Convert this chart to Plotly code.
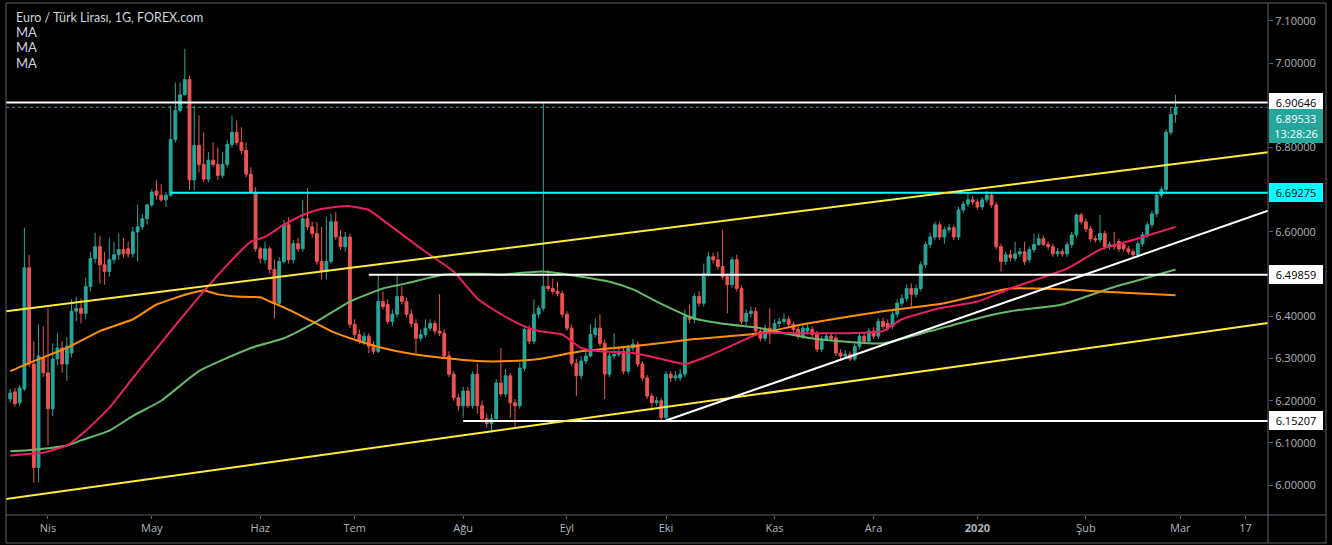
import pandas as pd
import plotly.graph_objects as go

# ---------------- data (EUR/TRY daily) ----------------
start_date = "2019-03-20"

opens = [
    6.204, 6.221, 6.195, 6.228, 6.515, 6.287, 6.042, 6.301, 6.266, 6.181,
    6.299, 6.325, 6.287, 6.313, 6.412, 6.419, 6.407, 6.471, 6.537, 6.565,
    6.522, 6.506, 6.534, 6.546, 6.558, 6.560, 6.548, 6.600, 6.612, 6.631,
    6.664, 6.697, 6.687, 6.676, 6.687, 6.819, 6.888, 6.925, 6.961, 6.723,
    6.805, 6.760, 6.725, 6.770, 6.760, 6.734, 6.760, 6.807, 6.836, 6.812,
    6.793, 6.737, 6.694, 6.560, 6.534, 6.560, 6.511, 6.431, 6.530, 6.617,
    6.534, 6.572, 6.560, 6.631, 6.612, 6.596, 6.530, 6.506, 6.530, 6.624,
    6.588, 6.565, 6.588, 6.381, 6.357, 6.341, 6.353, 6.329, 6.317, 6.435,
    6.428, 6.388, 6.405, 6.447, 6.435, 6.405, 6.383, 6.348, 6.357, 6.372,
    6.383, 6.365, 6.360, 6.306, 6.263, 6.207, 6.188, 6.223, 6.188, 6.263,
    6.188, 6.157, 6.146, 6.157, 6.242, 6.216, 6.259, 6.195, 6.188, 6.277,
    6.369, 6.341, 6.405, 6.419, 6.471, 6.466, 6.459, 6.454, 6.405, 6.372,
    6.289, 6.259, 6.294, 6.306, 6.357, 6.372, 6.336, 6.263, 6.306, 6.310,
    6.317, 6.270, 6.325, 6.334, 6.287, 6.254, 6.211, 6.195, 6.200, 6.160,
    6.263, 6.254, 6.254, 6.263, 6.400, 6.393, 6.447, 6.431, 6.501, 6.541,
    6.534, 6.518, 6.494, 6.475, 6.534, 6.466, 6.388, 6.407, 6.412, 6.365,
    6.348, 6.372, 6.365, 6.383, 6.388, 6.393, 6.381, 6.369, 6.353, 6.365,
    6.369, 6.357, 6.322, 6.346, 6.353, 6.348, 6.313, 6.306, 6.310, 6.299,
    6.329, 6.353, 6.341, 6.365, 6.353, 6.388, 6.383, 6.376, 6.405, 6.431,
    6.442, 6.466, 6.452, 6.466, 6.522, 6.570, 6.588, 6.617, 6.588, 6.605,
    6.610, 6.588, 6.652, 6.666, 6.676, 6.671, 6.659, 6.676, 6.687, 6.664,
    6.565, 6.530, 6.546, 6.537, 6.548, 6.553, 6.534, 6.558, 6.570, 6.584,
    6.570, 6.565, 6.548, 6.553, 6.548, 6.570, 6.593, 6.640, 6.624, 6.607,
    6.584, 6.581, 6.596, 6.565, 6.570, 6.577, 6.570, 6.560, 6.553, 6.546,
    6.572, 6.593, 6.617, 6.643, 6.687, 6.701, 6.836, 6.878,
]
highs = [
    6.228, 6.230, 6.237, 6.610, 6.546, 6.341, 6.381, 6.376, 6.419, 6.336,
    6.360, 6.341, 6.350, 6.440, 6.447, 6.442, 6.492, 6.553, 6.598, 6.591,
    6.553, 6.586, 6.577, 6.596, 6.586, 6.577, 6.612, 6.664, 6.643, 6.666,
    6.701, 6.723, 6.713, 6.694, 6.899, 6.954, 6.954, 7.034, 6.970, 6.899,
    6.876, 6.836, 6.789, 6.812, 6.800, 6.789, 6.817, 6.876, 6.864, 6.848,
    6.812, 6.753, 6.706, 6.565, 6.577, 6.565, 6.534, 6.541, 6.628, 6.635,
    6.581, 6.586, 6.676, 6.704, 6.624, 6.624, 6.612, 6.635, 6.643, 6.648,
    6.605, 6.600, 6.596, 6.393, 6.369, 6.362, 6.360, 6.341, 6.499, 6.459,
    6.440, 6.416, 6.499, 6.471, 6.445, 6.416, 6.393, 6.369, 6.393, 6.393,
    6.390, 6.452, 6.369, 6.317, 6.270, 6.216, 6.233, 6.233, 6.270, 6.289,
    6.200, 6.169, 6.169, 6.251, 6.325, 6.275, 6.266, 6.204, 6.289, 6.376,
    6.379, 6.440, 6.426, 6.907, 6.511, 6.489, 6.482, 6.461, 6.412, 6.381,
    6.299, 6.306, 6.317, 6.381, 6.395, 6.405, 6.346, 6.313, 6.360, 6.329,
    6.325, 6.332, 6.346, 6.341, 6.294, 6.261, 6.218, 6.209, 6.207, 6.270,
    6.270, 6.270, 6.275, 6.416, 6.428, 6.454, 6.459, 6.525, 6.553, 6.551,
    6.553, 6.605, 6.501, 6.541, 6.546, 6.473, 6.416, 6.423, 6.421, 6.374,
    6.381, 6.419, 6.393, 6.397, 6.407, 6.400, 6.388, 6.376, 6.381, 6.383,
    6.376, 6.365, 6.353, 6.362, 6.360, 6.355, 6.322, 6.320, 6.317, 6.336,
    6.360, 6.362, 6.372, 6.374, 6.395, 6.397, 6.393, 6.412, 6.440, 6.452,
    6.475, 6.478, 6.475, 6.530, 6.577, 6.598, 6.624, 6.624, 6.612, 6.619,
    6.617, 6.659, 6.673, 6.692, 6.685, 6.678, 6.683, 6.697, 6.694, 6.671,
    6.572, 6.553, 6.558, 6.577, 6.562, 6.577, 6.565, 6.596, 6.596, 6.591,
    6.577, 6.572, 6.562, 6.560, 6.577, 6.600, 6.643, 6.645, 6.631, 6.614,
    6.591, 6.640, 6.603, 6.577, 6.600, 6.584, 6.577, 6.567, 6.560, 6.579,
    6.600, 6.624, 6.650, 6.694, 6.708, 6.843, 6.895, 6.925,
]
lows = [
    6.195, 6.186, 6.188, 6.223, 6.280, 6.006, 6.006, 6.256, 6.094, 6.164,
    6.284, 6.266, 6.247, 6.303, 6.388, 6.383, 6.393, 6.459, 6.525, 6.478,
    6.475, 6.494, 6.525, 6.534, 6.539, 6.539, 6.539, 6.530, 6.605, 6.617,
    6.659, 6.676, 6.671, 6.659, 6.683, 6.812, 6.883, 6.923, 6.699, 6.699,
    6.741, 6.718, 6.718, 6.753, 6.723, 6.727, 6.753, 6.800, 6.805, 6.784,
    6.730, 6.690, 6.553, 6.525, 6.525, 6.501, 6.395, 6.423, 6.525, 6.525,
    6.525, 6.553, 6.553, 6.605, 6.586, 6.522, 6.487, 6.487, 6.525, 6.581,
    6.558, 6.553, 6.372, 6.348, 6.334, 6.332, 6.313, 6.310, 6.313, 6.416,
    6.381, 6.376, 6.397, 6.428, 6.397, 6.374, 6.313, 6.341, 6.350, 6.365,
    6.357, 6.353, 6.299, 6.256, 6.200, 6.176, 6.160, 6.183, 6.181, 6.169,
    6.148, 6.136, 6.124, 6.150, 6.209, 6.209, 6.160, 6.136, 6.181, 6.270,
    6.334, 6.334, 6.395, 6.412, 6.459, 6.452, 6.447, 6.397, 6.365, 6.282,
    6.211, 6.251, 6.287, 6.303, 6.350, 6.329, 6.204, 6.256, 6.299, 6.303,
    6.263, 6.263, 6.317, 6.280, 6.247, 6.204, 6.176, 6.188, 6.153, 6.153,
    6.244, 6.247, 6.247, 6.256, 6.383, 6.383, 6.423, 6.423, 6.494, 6.525,
    6.511, 6.487, 6.407, 6.468, 6.459, 6.381, 6.379, 6.397, 6.355, 6.341,
    6.341, 6.334, 6.357, 6.374, 6.381, 6.374, 6.362, 6.346, 6.346, 6.357,
    6.350, 6.315, 6.315, 6.341, 6.341, 6.306, 6.299, 6.299, 6.294, 6.294,
    6.322, 6.334, 6.334, 6.346, 6.346, 6.369, 6.365, 6.369, 6.397, 6.423,
    6.435, 6.419, 6.445, 6.459, 6.515, 6.562, 6.581, 6.581, 6.572, 6.598,
    6.581, 6.581, 6.645, 6.659, 6.664, 6.652, 6.652, 6.669, 6.657, 6.558,
    6.506, 6.522, 6.530, 6.530, 6.541, 6.522, 6.527, 6.551, 6.567, 6.567,
    6.558, 6.541, 6.541, 6.541, 6.541, 6.562, 6.586, 6.617, 6.600, 6.577,
    6.574, 6.574, 6.558, 6.558, 6.558, 6.553, 6.553, 6.546, 6.539, 6.539,
    6.565, 6.586, 6.610, 6.635, 6.680, 6.694, 6.829, 6.859,
]
closes = [
    6.218, 6.193, 6.230, 6.515, 6.287, 6.042, 6.306, 6.266, 6.181, 6.299,
    6.325, 6.287, 6.329, 6.412, 6.419, 6.407, 6.471, 6.537, 6.565, 6.522,
    6.506, 6.534, 6.546, 6.558, 6.548, 6.548, 6.600, 6.612, 6.631, 6.664,
    6.694, 6.687, 6.676, 6.687, 6.819, 6.888, 6.925, 6.961, 6.723, 6.805,
    6.760, 6.725, 6.770, 6.760, 6.734, 6.760, 6.807, 6.836, 6.812, 6.793,
    6.737, 6.694, 6.560, 6.537, 6.560, 6.511, 6.431, 6.530, 6.617, 6.534,
    6.572, 6.560, 6.631, 6.612, 6.596, 6.530, 6.506, 6.530, 6.624, 6.588,
    6.565, 6.588, 6.381, 6.357, 6.341, 6.353, 6.329, 6.317, 6.435, 6.423,
    6.388, 6.405, 6.447, 6.435, 6.405, 6.383, 6.348, 6.357, 6.372, 6.383,
    6.365, 6.360, 6.306, 6.263, 6.207, 6.188, 6.223, 6.188, 6.263, 6.188,
    6.157, 6.146, 6.157, 6.242, 6.216, 6.259, 6.195, 6.188, 6.277, 6.369,
    6.341, 6.405, 6.419, 6.471, 6.466, 6.459, 6.454, 6.405, 6.372, 6.289,
    6.259, 6.294, 6.306, 6.357, 6.372, 6.336, 6.263, 6.306, 6.310, 6.317,
    6.270, 6.325, 6.334, 6.287, 6.254, 6.211, 6.195, 6.200, 6.160, 6.263,
    6.254, 6.259, 6.263, 6.400, 6.393, 6.447, 6.431, 6.501, 6.541, 6.534,
    6.518, 6.494, 6.475, 6.534, 6.466, 6.388, 6.407, 6.412, 6.365, 6.348,
    6.372, 6.365, 6.383, 6.388, 6.393, 6.381, 6.369, 6.353, 6.372, 6.372,
    6.357, 6.322, 6.346, 6.353, 6.348, 6.313, 6.306, 6.310, 6.299, 6.329,
    6.353, 6.341, 6.365, 6.353, 6.388, 6.376, 6.372, 6.405, 6.431, 6.442,
    6.466, 6.452, 6.466, 6.522, 6.570, 6.588, 6.617, 6.588, 6.605, 6.610,
    6.588, 6.652, 6.666, 6.676, 6.671, 6.659, 6.676, 6.687, 6.664, 6.565,
    6.530, 6.546, 6.539, 6.548, 6.553, 6.530, 6.558, 6.570, 6.584, 6.570,
    6.565, 6.548, 6.553, 6.548, 6.570, 6.593, 6.640, 6.624, 6.607, 6.584,
    6.581, 6.596, 6.565, 6.570, 6.565, 6.560, 6.560, 6.553, 6.546, 6.572,
    6.593, 6.617, 6.643, 6.687, 6.701, 6.836, 6.878, 6.895,
]

# moving averages, read at selected bars (bar number counted from 2019-04-01 = 0)
ma_red_bar = [-8, -3, -1, 4, 8, 13, 18, 26, 33, 38, 43, 46, 50, 54, 57, 61, 64, 68, 71,
              80, 86, 91, 95, 100, 104, 109, 113, 117, 124, 130, 135, 140, 146, 151, 159,
              170, 177, 181, 189, 197, 204, 216, 223, 230, 239]
ma_red = [6.070, 6.075, 6.077, 6.094, 6.129, 6.183, 6.254, 6.365, 6.459, 6.522, 6.577, 6.588,
          6.617, 6.640, 6.652, 6.659, 6.661, 6.652, 6.628, 6.553, 6.506, 6.442, 6.412,
          6.381, 6.365, 6.357, 6.325, 6.317, 6.313, 6.299, 6.287, 6.306, 6.336, 6.360, 6.360,
          6.360, 6.365, 6.393, 6.419, 6.435, 6.466, 6.513, 6.558, 6.581, 6.612]
ma_orange_bar = [-8, -3, 4, 11, 18, 23, 30, 33, 36, 40, 45, 47, 51, 56, 60, 66, 71, 76, 84,
                 91, 98, 104, 113, 124, 137, 151, 160, 177, 190, 204, 215, 223, 239]
ma_orange = [6.270, 6.294, 6.325, 6.365, 6.393, 6.428, 6.454, 6.461, 6.452, 6.447, 6.445,
             6.435, 6.416, 6.388, 6.365, 6.341, 6.325, 6.313, 6.301, 6.294, 6.294, 6.299,
             6.317, 6.329, 6.346, 6.360, 6.381, 6.412, 6.431, 6.466, 6.464, 6.459, 6.450]
ma_green_bar = [-8, -3, 4, 7, 13, 18, 24, 32, 43, 50, 57, 64, 71, 76, 84, 91, 96, 105, 113,
                119, 124, 129, 137, 144, 151, 156, 163, 170, 177, 187, 197, 204, 215, 225,
                230, 239]
ma_green = [6.080, 6.084, 6.094, 6.106, 6.129, 6.164, 6.200, 6.270, 6.325, 6.348, 6.388,
            6.435, 6.466, 6.478, 6.499, 6.501, 6.499, 6.506, 6.494, 6.482, 6.464, 6.435,
            6.395, 6.381, 6.372, 6.360, 6.346, 6.339, 6.336, 6.365, 6.395, 6.412, 6.428,
            6.466, 6.482, 6.511]

# horizontal levels: (start date or None for full width, price, colour)
level_prices = [6.90646, 6.69275, 6.49859, 6.15207]
level_starts = [None, "2019-05-07", "2019-07-04", "2019-08-01"]
level_colors = ["#ffffff", "#00ffff", "#ffffff", "#ffffff"]
level_text_colors = ["#000000", "#000000", "#000000", "#000000"]

last_price = 6.89533
countdown = "13:28:26"

# trend lines (start date, start price, end price at right edge)
trend_starts = [None, None, "2019-10-01"]
trend_p0 = [6.412, 5.967, 6.153]
trend_p1 = [6.789, 6.384, 6.650]
trend_colors = ["#ffeb3b", "#ffeb3b", "#ffffff"]

tick_dates = ["2019-04-01", "2019-05-01", "2019-06-03", "2019-07-01", "2019-08-01",
              "2019-09-02", "2019-10-01", "2019-11-01", "2019-12-02", "2020-01-01",
              "2020-02-03", "2020-03-02", "2020-03-19 20:00"]
tick_labels = ["Nis", "May", "Haz", "Tem", "Ağu", "Eyl", "Eki", "Kas", "Ara",
               "<b>2020</b>", "Şub", "Mar", "17"]

# price scale labels (6.5, 6.7 and 6.9 sit under the level boxes and are not shown)
price_ticks = [6.0, 6.1, 6.2, 6.3, 6.4, 6.6, 6.8, 7.0, 7.1]

# ---------------- figure ----------------
W, H = 1332, 545
L_, R_, T_, B_ = 6, 64, 3, 30
PW, PH = W - L_ - R_, H - T_ - B_

def px(x):
    return (x - L_) / PW

def py(y):
    return (H - B_ - y) / PH

X_LEFT = "2019-03-19 02:24"
X_RIGHT = "2020-03-26 14:24"

UP, DOWN = "#26a69a", "#ef5350"
dates = pd.bdate_range(start_date, periods=len(closes))
first_bar = pd.Timestamp("2019-04-01")
offset = list(dates).index(first_bar)

def bar_date(i):
    return dates[i + offset]

fig = go.Figure()
fig.add_trace(go.Candlestick(
    x=dates, open=opens, high=highs, low=lows, close=closes,
    increasing=dict(line=dict(color=UP, width=1), fillcolor=UP),
    decreasing=dict(line=dict(color=DOWN, width=1), fillcolor=DOWN),
    whiskerwidth=0, showlegend=False, hoverinfo="skip",
))

for bars, vals, col in [(ma_green_bar, ma_green, "#66bb6a"),
                        (ma_orange_bar, ma_orange, "#ff8f00"),
                        (ma_red_bar, ma_red, "#e91e63")]:
    fig.add_trace(go.Scatter(x=[bar_date(b) for b in bars], y=vals, mode="lines",
                             line=dict(color=col, width=2, shape="spline", smoothing=0.5),
                             showlegend=False, hoverinfo="skip"))

# current price dotted line
fig.add_trace(go.Scatter(x=[X_LEFT, X_RIGHT], y=[last_price, last_price], mode="lines",
                         line=dict(color=UP, width=1, dash="dot"),
                         showlegend=False, hoverinfo="skip"))

for s, p, c in zip(level_starts, level_prices, level_colors):
    fig.add_trace(go.Scatter(x=[s or X_LEFT, X_RIGHT], y=[p, p], mode="lines",
                             line=dict(color=c, width=2), showlegend=False, hoverinfo="skip"))

for s, p0, p1, c in zip(trend_starts, trend_p0, trend_p1, trend_colors):
    fig.add_trace(go.Scatter(x=[s or X_LEFT, X_RIGHT], y=[p0, p1], mode="lines",
                             line=dict(color=c, width=2), showlegend=False, hoverinfo="skip"))

annotations = []
FONT = "Open Sans, Arial, sans-serif"
LEG_FONT = "Lato, Open Sans, sans-serif"
annotations.append(dict(x=px(14), y=py(17), xref="paper", yref="paper", xanchor="left",
                        yanchor="middle", showarrow=False,
                        text="Euro / Türk Lirası, 1G, FOREX.com",
                        font=dict(family=LEG_FONT, size=12.5, color="#d1d4dc")))
for yy in (32, 47, 63):
    annotations.append(dict(x=px(14), y=py(yy), xref="paper", yref="paper", xanchor="left",
                            yanchor="middle", showarrow=False, text="MA",
                            font=dict(family=LEG_FONT, size=13, color="#d1d4dc")))

def price_box(price, text, bg, fg, yshift=0):
    return dict(x=1, y=price, xref="paper", yref="y", xanchor="left", yanchor="middle",
                showarrow=False, text=text, yshift=yshift, xshift=1,
                font=dict(family=FONT, size=11, color=fg), bgcolor=bg, bordercolor=bg,
                borderwidth=1, borderpad=1, width=50, align="center")

for p, c, tc in zip(level_prices, level_colors, level_text_colors):
    annotations.append(price_box(p, f"{p:.5f}", c, tc))
annotations.append(price_box(last_price, f"{last_price:.5f}", UP, "#ffffff", yshift=-11))
annotations.append(price_box(last_price, countdown, UP, "#ffffff", yshift=-26))

BORDER = "#5d606b"
shapes = [
    dict(type="rect", xref="paper", yref="paper", x0=px(6), x1=px(1326), y0=py(543), y1=py(3),
         line=dict(color=BORDER, width=1), layer="above"),
    dict(type="line", xref="paper", yref="paper", x0=1, x1=1, y0=py(543), y1=1,
         line=dict(color=BORDER, width=1), layer="above"),
    dict(type="line", xref="paper", yref="paper", x0=0, x1=px(1326), y0=0, y1=0,
         line=dict(color=BORDER, width=1), layer="above"),
]

fig.update_layout(
    width=W, height=H, margin=dict(l=L_, r=R_, t=T_, b=B_),
    paper_bgcolor="#000000", plot_bgcolor="#000000",
    showlegend=False, annotations=annotations, shapes=shapes,
    boxgap=0.15,
    font=dict(family=FONT, size=11, color="#b2b5be"),
    xaxis=dict(
        type="date", range=[X_LEFT, X_RIGHT],
        rangebreaks=[dict(bounds=["sat", "mon"])],
        rangeslider=dict(visible=False),
        tickmode="array", tickvals=tick_dates, ticktext=tick_labels,
        ticks="outside", ticklen=3, tickcolor=BORDER,
        showgrid=False, zeroline=False, showline=False,
        tickfont=dict(family=FONT, size=11, color="#b2b5be"),
    ),
    yaxis=dict(
        side="right", range=[5.9292, 7.1424], tickmode="array", tickvals=price_ticks,
        ticktext=[f"{v:.5f}" for v in price_ticks],
        ticks="outside", ticklen=4, tickcolor=BORDER,
        showgrid=False, zeroline=False, showline=False,
        tickfont=dict(family=FONT, size=11, color="#b2b5be"),
    ),
)

fig.write_html("out.html")
